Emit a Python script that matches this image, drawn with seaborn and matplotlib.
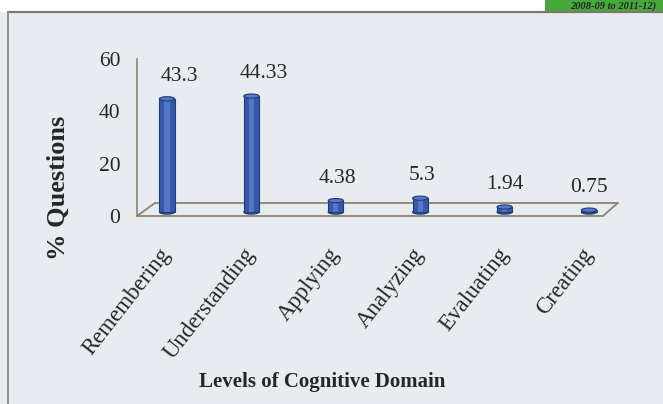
import matplotlib.pyplot as plt
import seaborn as sns
from matplotlib.patches import Ellipse, Rectangle
from matplotlib.lines import Line2D

# ---- data ----
levels = ["Remembering", "Understanding", "Applying", "Analyzing", "Evaluating", "Creating"]
pct_questions = [43.3, 44.33, 4.38, 5.3, 1.94, 0.75]
y_ticks = [0, 20, 40, 60]
banner_text = "2008-09 to 2011-12)"

sns.set_style("white")
plt.rcParams['font.family'] = ['Liberation Serif', 'DejaVu Serif']

bg = "#e8ecf1"
axis_col = "#8a8472"
bar_col = "#3459ab"
edge_col = "#1f3b78"
base = 1.5      # bars stand on the 3-D floor, a bit above the front edge
depth = 5       # floor depth in data units

W, H = 663, 404
fig = plt.figure(figsize=(W / 100, H / 100), dpi=100, facecolor=bg)

# white strip above the scanned frame, the frame lines and the green banner
fig.patches.append(Rectangle((0, 1 - 12 / H), 1, 12 / H, transform=fig.transFigure,
                             facecolor="white", edgecolor="none"))
fig.patches.append(Rectangle((545 / W, 1 - 12 / H), 1, 12 / H, transform=fig.transFigure,
                             facecolor="#45a83a", edgecolor="none"))
fig.add_artist(Line2D([8 / W, 1], [1 - 12 / H, 1 - 12 / H], color="#7d7868", lw=1.6))
fig.add_artist(Line2D([8 / W, 8 / W], [0, 1 - 12 / H], color="#8f8f8f", lw=1.4))
fig.text(0.99, 1 - 6 / H, banner_text, ha="right", va="center", fontsize=7.5,
         fontweight="bold", fontstyle="italic")

ax = fig.add_axes([137 / W, 1 - 216 / H, 503 / W, 157 / H])
ax.set_facecolor("none")

# cylinders
sns.barplot(x=levels, y=pct_questions, ax=ax, width=0.18, color=bar_col, saturation=1,
            edgecolor=edge_col, linewidth=0.8, bottom=base, zorder=3)
sns.barplot(x=levels, y=pct_questions, ax=ax, width=0.06, color="#7d9de2", saturation=1,
            alpha=0.45, linewidth=0, bottom=base, zorder=3.5)
for i, v in enumerate(pct_questions):
    ax.add_patch(Ellipse((i, base), 0.18, 1.6, facecolor=bar_col, edgecolor=edge_col,
                         lw=0.8, zorder=2.9))
    ax.add_patch(Ellipse((i, base + v), 0.18, 1.6, facecolor="#5578c9", edgecolor=edge_col,
                         lw=0.8, zorder=4))
    ax.text(i + 0.0033 * v, base + v + 8.5, str(v), ha="center", va="center", fontsize=15.5)

x0, x1 = -0.3555, 5.604
front_right = 5.166
back_left, back_right = -0.142, 5.34
ax.set_xlim(x0, x1)
ax.set_ylim(0, 60)

# 3-D floor outline
ax.plot([back_left, back_right], [depth, depth], color=axis_col, lw=1.3, zorder=2)
ax.plot([x0, back_left], [0, depth], color=axis_col, lw=1.3, zorder=2, clip_on=False)
ax.plot([front_right, back_right], [0, depth], color=axis_col, lw=1.3, zorder=2)

for s in ["top", "right"]:
    ax.spines[s].set_visible(False)
ax.spines["left"].set_color(axis_col)
ax.spines["bottom"].set_color(axis_col)
ax.spines["left"].set_linewidth(1.2)
ax.spines["bottom"].set_linewidth(1.3)
ax.spines["bottom"].set_bounds(x0, front_right)

ax.set_yticks(y_ticks)
ax.tick_params(axis="y", direction="out", length=5, width=1.1, color=axis_col,
               labelsize=15.5, pad=7)
ax.set_xticks(range(len(levels)))
ax.set_xticks([x0 + 0.5 * k for k in range(12)], minor=True)
ax.tick_params(axis="x", which="major", length=0, labelsize=16.5, pad=25)
ax.tick_params(axis="x", which="minor", direction="out", length=6, width=1.1, color=axis_col)
ax.set_xticklabels(levels, rotation=52, ha="right", va="center", rotation_mode="anchor")
ax.set_xlabel("")
ax.set_ylabel("")

fig.text(322 / W, 1 - 382 / H, "Levels of Cognitive Domain", ha="center", va="center",
         fontsize=15, fontweight="bold")
fig.text(58 / W, 1 - 188 / H, "% Questions", ha="center", va="center", rotation=90,
         fontsize=19, fontweight="bold")

fig.savefig("out.png", dpi=100, facecolor=bg)
